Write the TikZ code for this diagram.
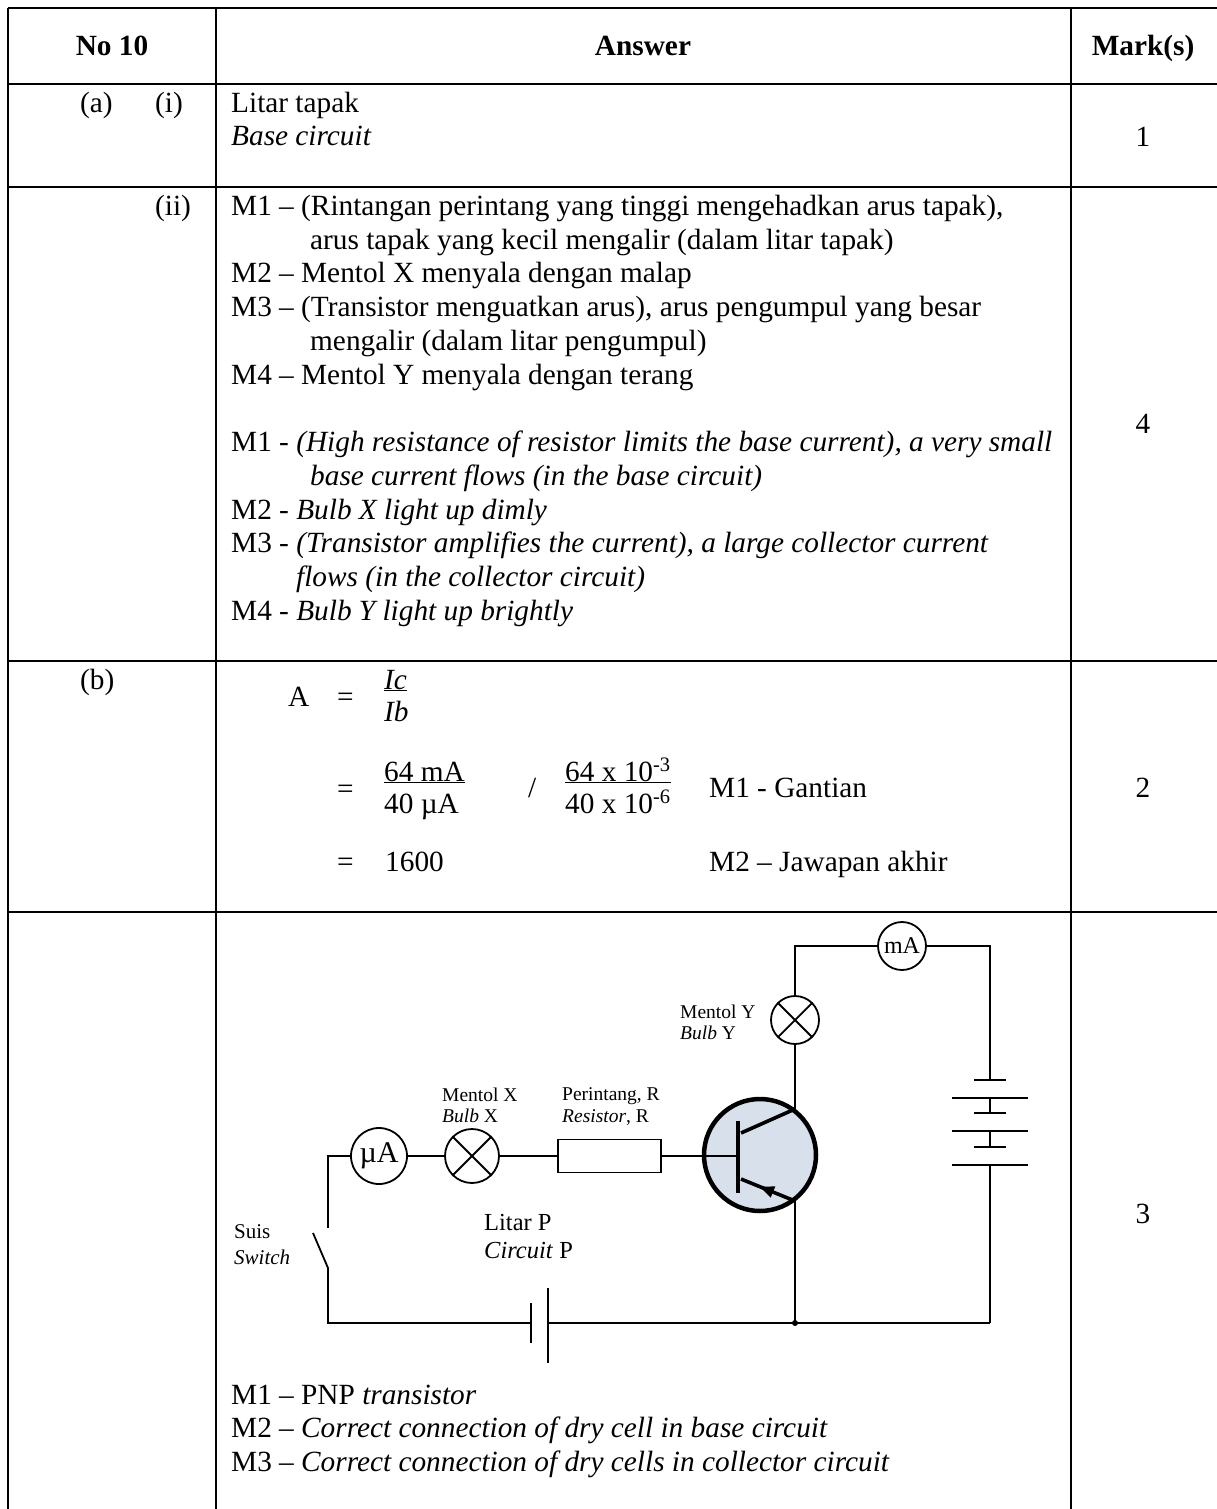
\documentclass[tikz,border=0pt]{standalone}
\usepackage{fontspec}
\setmainfont{Liberation Serif}
\definecolor{tfill}{RGB}{216,224,236}
\begin{document}
\begin{tikzpicture}[x=1pt,y=-1pt]
    \tikzset{
      rule/.style={line width=2.6pt},
      wire/.style={line width=1.8pt},
      plate/.style={line width=2.6pt},
      txt/.style={anchor=base west, inner sep=0pt, font=\fontsize{29.3}{33.7}\selectfont},
      head/.style={anchor=base, inner sep=0pt, font=\fontsize{29.3}{33.7}\selectfont\bfseries},
      score/.style={anchor=base, inner sep=0pt, font=\fontsize{29.3}{33.7}\selectfont},
      lbl/.style={anchor=base west, inner sep=0pt, font=\fontsize{19.5}{21}\selectfont},
      meter/.style={draw, circle, line width=1.8pt, inner sep=0pt, fill=white},
      bulb/.style={draw, circle, line width=1.8pt, inner sep=0pt, fill=white}
    }
    \useasboundingbox (0,0) rectangle (1217,1509);
    % table rules
    \draw [rule] (8,8) -- (1217,8);
    \draw [rule] (8,84) -- (1217,84);
    \draw [rule] (8,187) -- (1217,187);
    \draw [rule] (8,661) -- (1217,661);
    \draw [rule] (8,912) -- (1217,912);
    \draw [rule] (8,8) -- (8,1509);
    \draw [rule] (216,8) -- (216,1509);
    \draw [rule] (1071,8) -- (1071,1509);
    % header
    \node [head] (hno) at (112,56) {No 10};
    \node [head] (hans) at (643,56) {Answer};
    \node [head] (hmark) at (1143,56) {Mark(s)};
    % (a)(i)
    \node [txt] (qa) at (80,113) {(a)};
    \node [txt] (qai) at (155,113) {(i)};
    \node [txt] (ai1) at (231,113) {Litar tapak};
    \node [txt] (ai2) at (231,146) {\itshape Base circuit};
    \node [score] (s1) at (1143,146.5) {1};
    % (a)(ii)
    \node [txt] (qaii) at (155,215) {(ii)};
    \node [txt] (my1) at (231,215) {M1 – (Rintangan perintang yang tinggi mengehadkan arus tapak),};
    \node [txt] (my1b) at (310,249) {arus tapak yang kecil mengalir (dalam litar tapak)};
    \node [txt] (my2) at (231,282) {M2 – Mentol X menyala dengan malap};
    \node [txt] (my3) at (231,316) {M3 – (Transistor menguatkan arus), arus pengumpul yang besar};
    \node [txt] (my3b) at (310,350) {mengalir (dalam litar pengumpul)};
    \node [txt] (my4) at (231,384) {M4 – Mentol Y menyala dengan terang};
    \node [txt] (en1) at (231,451) {M1 - \textit{(High resistance of resistor limits the base current), a very small}};
    \node [txt] (en1b) at (310,485) {\itshape base current flows (in the base circuit)};
    \node [txt] (en2) at (231,519) {M2 - \textit{Bulb X light up dimly}};
    \node [txt] (en3) at (231,552) {M3 - \textit{(Transistor amplifies the current), a large collector current}};
    \node [txt] (en3b) at (296,586) {\itshape flows (in the collector circuit)};
    \node [txt] (en4) at (231,620) {M4 - \textit{Bulb Y light up brightly}};
    \node [score] (s4) at (1143,433.5) {4};
    % (b)
    \node [txt] (qb) at (80,689) {(b)};
    \node [txt] (eqA) at (288,706) {A};
    \node [txt] (eq1) at (337,706) {=};
    \node [txt] (ic) at (384,689) {\underline{\textit{Ic}}};
    \node [txt] (ib) at (384,721) {\textit{Ib}};
    \node [txt] (eq2) at (337,798) {=};
    \node [txt] (num1) at (384,781) {\underline{64 mA}};
    \node [txt] (den1) at (384,813) {40 µA};
    \node [txt] (slash) at (528,797) {/};
    \node [txt] (num2) at (565,781) {\underline{64 x 10\textsuperscript{-3}}};
    \node [txt] (den2) at (565,813) {40 x 10\textsuperscript{-6}};
    \node [txt] (gant) at (709,797) {M1 - Gantian};
    \node [txt] (eq3) at (337,871) {=};
    \node [txt] (res) at (385,871) {1600};
    \node [txt] (jaw) at (709,871) {M2 – Jawapan akhir};
    \node [score] (s2) at (1143,797.5) {2};
    % circuit
    \node [draw, circle, line width=4.5pt, fill=tfill, minimum size=112] (T) at (760,1155) {};
    \coordinate (bB) at (738,1156);
    \coordinate (Cin) at (741,1133);
    \coordinate (Cout) at (795,1109);
    \coordinate (Ein) at (741,1179);
    \coordinate (Eout) at (795,1201);
    \draw [line width=4pt] (738,1121) -- (738,1193);
    \draw [line width=3.6pt] (Cin) -- (Cout);
    \draw [line width=3.6pt] (Ein) -- (Eout);
    \fill [black] (760,1186.7) -- (775.3,1186.4) -- (770.7,1197.6) -- cycle;
    \node [meter, minimum size=56, font=\fontsize{30}{30}\selectfont] (uA) at (379,1156) {µA};
    \node [bulb, minimum size=54] (bX) at (472,1156) {};
    \draw [wire] (bX.north west) -- (bX.south east) (bX.north east) -- (bX.south west);
    \node [draw, line width=1.8pt, minimum width=103, minimum height=33, inner sep=0pt] (R) at (609.5,1156) {};
    \node [meter, minimum size=48, font=\fontsize{24}{24}\selectfont] (mA) at (902,946) {mA};
    \node [bulb, minimum size=48] (bY) at (795,1020) {};
    \draw [wire] (bY.north west) -- (bY.south east) (bY.north east) -- (bY.south west);
    \coordinate (tl) at (328,1156);
    \coordinate (swtop) at (328,1228);
    \coordinate (swA) at (313,1233);
    \coordinate (swB) at (328,1268);
    \coordinate (bl) at (328,1323);
    \coordinate (J) at (795,1323);
    \coordinate (br) at (990,1323);
    \coordinate (ctop) at (795,946);
    \coordinate (rtop) at (990,946);
    % base circuit wires
    \draw [wire] (uA.west) -- (tl) -- (swtop);
    \draw [wire] (swA) -- (swB) -- (bl) -- (531,1323);
    \draw [wire] (uA.east) -- (bX.west);
    \draw [wire] (bX.east) -- (R.west);
    \draw [wire] (R.east) -- (bB);
    \draw [plate] (531,1303) -- (531,1343);
    \draw [plate] (548,1288) -- (548,1363);
    \draw [wire] (548,1323) -- (J) -- (br);
    \fill [black] (J) circle (3);
    % collector circuit wires
    \draw [wire] (Eout) -- (J);
    \draw [wire] (Cout) -- (bY.south);
    \draw [wire] (bY.north) -- (ctop) -- (mA.west);
    \draw [wire] (mA.east) -- (rtop) -- (990,1080);
    \draw [plate] (974,1080) -- (1006,1080);
    \draw [plate] (952,1098) -- (1028,1098);
    \draw [wire] (990,1098) -- (990,1113);
    \draw [plate] (974,1113) -- (1006,1113);
    \draw [plate] (952,1131) -- (1028,1131);
    \draw [wire] (990,1131) -- (990,1147);
    \draw [plate] (974,1147) -- (1006,1147);
    \draw [plate] (952,1165) -- (1028,1165);
    \draw [wire] (990,1165) -- (br);
    % circuit labels
    \node [lbl] (lY1) at (680,1018) {Mentol Y};
    \node [lbl] (lY2) at (680,1039) {\textit{Bulb} Y};
    \node [lbl] (lX1) at (442,1101) {Mentol X};
    \node [lbl] (lX2) at (442,1122) {\textit{Bulb} X};
    \node [lbl] (lR1) at (562,1100) {Perintang, R};
    \node [lbl] (lR2) at (562,1122) {\textit{Resistor}, R};
    \node [lbl, font=\fontsize{21}{23}\selectfont] (lS1) at (234,1238) {Suis};
    \node [lbl, font=\fontsize{21}{23}\selectfont] (lS2) at (234,1264) {\textit{Switch}};
    \node [lbl, font=\fontsize{24.5}{27}\selectfont] (lP1) at (484,1230) {Litar P};
    \node [lbl, font=\fontsize{24.5}{27}\selectfont] (lP2) at (484,1258) {\textit{Circuit} P};
    \node [score] (s3) at (1143,1223.5) {3};
    % scheme
    \node [txt] (c1) at (231,1404) {M1 – PNP \textit{transistor}};
    \node [txt] (c2) at (231,1437) {M2 – \textit{Correct connection of dry cell in base circuit}};
    \node [txt] (c3) at (231,1471) {M3 – \textit{Correct connection of dry cells in collector circuit}};
    \end{tikzpicture}
\end{document}
